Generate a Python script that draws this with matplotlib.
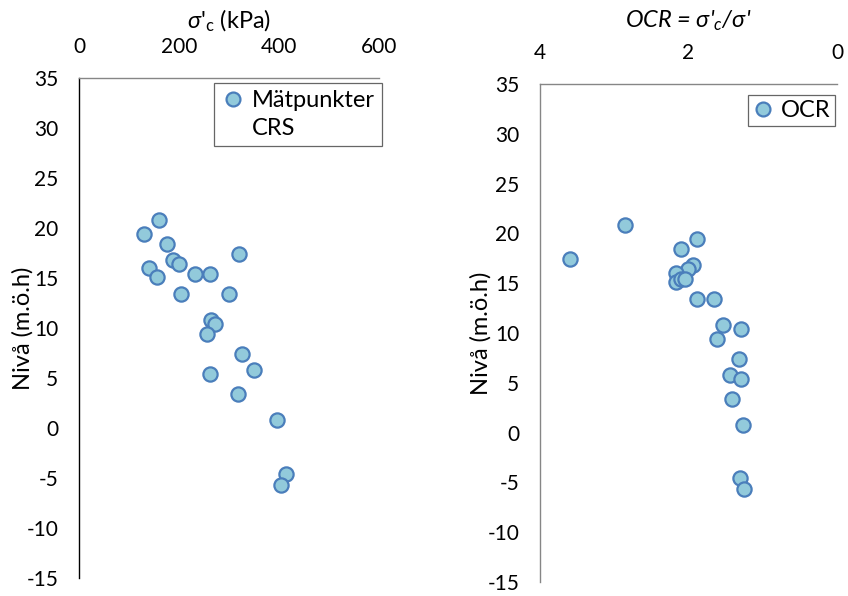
import matplotlib

matplotlib.use("Agg")
import matplotlib.pyplot as plt
from matplotlib.lines import Line2D

# ── Data ────────────────────────────────────────────────────────────────────
depth = [20.8, 19.4, 18.4, 17.4, 16.8, 16.4, 16.0, 15.1, 15.4, 15.4, 13.4,
         13.4, 10.8, 10.4, 9.4, 7.4, 5.8, 5.4, 3.4, 0.8, -4.6, -5.7]
sigma_c = [160, 129, 175, 320, 187, 200, 140, 155, 231, 261, 203,
           300, 264, 272, 256, 325, 349, 261, 318, 395, 413, 404]
ocr = [2.86, 1.89, 2.10, 3.59, 1.94, 2.00, 2.17, 2.17, 2.10, 2.05, 1.88,
       1.66, 1.54, 1.29, 1.62, 1.32, 1.44, 1.29, 1.42, 1.26, 1.30, 1.25]

sigma_ticks = [0, 200, 400, 600]
ocr_ticks = [4, 2, 0]
depth_ticks = list(range(-15, 40, 5))

plt.rcParams["font.family"] = ["Lato", "DejaVu Sans"]
plt.rcParams["mathtext.fontset"] = "custom"
plt.rcParams["mathtext.rm"] = "Lato"
plt.rcParams["mathtext.it"] = "Lato:italic"
plt.rcParams["axes.unicode_minus"] = False

FACE = "#92CADB"
EDGE = "#4A7EBB"
GREY = "#868686"

fig = plt.figure(figsize=(8.48, 5.96), dpi=100)
ax1 = fig.add_axes([0.0932, 0.0302, 0.3538, 0.8389])
ax2 = fig.add_axes([0.6368, 0.0235, 0.3502, 0.8356])


def style(ax, left_col, top_col):
    ax.spines["right"].set_visible(False)
    ax.spines["bottom"].set_visible(False)
    ax.spines["left"].set_color(left_col)
    ax.spines["top"].set_color(top_col)
    ax.spines["left"].set_linewidth(1.0)
    ax.spines["top"].set_linewidth(1.0)
    ax.xaxis.tick_top()
    ax.xaxis.set_label_position("top")
    ax.tick_params(axis="x", length=0, pad=15, labelsize=15)
    ax.tick_params(axis="y", length=0, pad=15, labelsize=15)
    ax.set_ylim(-15, 35)
    ax.set_yticks(depth_ticks)


# ── Left: preconsolidation pressure ─────────────────────────────────────────
style(ax1, "black", GREY)
ax1.scatter(sigma_c, depth, s=105, facecolor=FACE, edgecolor=EDGE,
            linewidth=1.6, zorder=3)
ax1.set_xlim(0, 600)
ax1.set_xticks(sigma_ticks)
ax1.set_xlabel(r"$\sigma$'$_{\rm c}$ (kPa)", fontsize=17)
ax1.xaxis.set_label_coords(0.5, 1.10)
ax1.set_ylabel("Nivå (m.ö.h)", fontsize=17)
ax1.yaxis.set_label_coords(-0.153, 0.5)

h1 = [Line2D([], [], marker="o", ls="", ms=10, mfc=FACE, mec=EDGE, mew=1.6),
      Line2D([], [], ls="", marker="")]
leg1 = ax1.legend(h1, ["Mätpunkter", "CRS"], loc="upper right",
                  bbox_to_anchor=(1.01, 0.99), fontsize=17, frameon=True,
                  fancybox=False, handlelength=1.0, handletextpad=0.3,
                  labelspacing=0.3, borderpad=0.3, borderaxespad=0)
leg1.get_frame().set_edgecolor("#404040")
leg1.get_frame().set_linewidth(0.9)

# ── Right: OCR ──────────────────────────────────────────────────────────────
style(ax2, GREY, GREY)
ax2.scatter(ocr, depth, s=105, facecolor=FACE, edgecolor=EDGE,
            linewidth=1.6, zorder=3)
ax2.set_xlim(4, 0)
ax2.set_xticks(ocr_ticks)
ax2.set_xlabel(r"OCR = $\sigma$'$_{c}$/$\sigma$'", fontsize=17,
               fontstyle="italic")
ax2.xaxis.set_label_coords(0.5, 1.113)
ax2.set_ylabel("Nivå (m.ö.h)", fontsize=17)
ax2.yaxis.set_label_coords(-0.162, 0.5)

h2 = [Line2D([], [], marker="o", ls="", ms=10, mfc=FACE, mec=EDGE, mew=1.6)]
leg2 = ax2.legend(h2, ["OCR"], loc="upper right", bbox_to_anchor=(0.995, 0.977),
                  fontsize=17, frameon=True, fancybox=False, handlelength=0.9,
                  handletextpad=0.3, borderpad=0.2, borderaxespad=0)
leg2.get_frame().set_edgecolor("#404040")
leg2.get_frame().set_linewidth(0.9)

fig.savefig("out.png", dpi=100)
